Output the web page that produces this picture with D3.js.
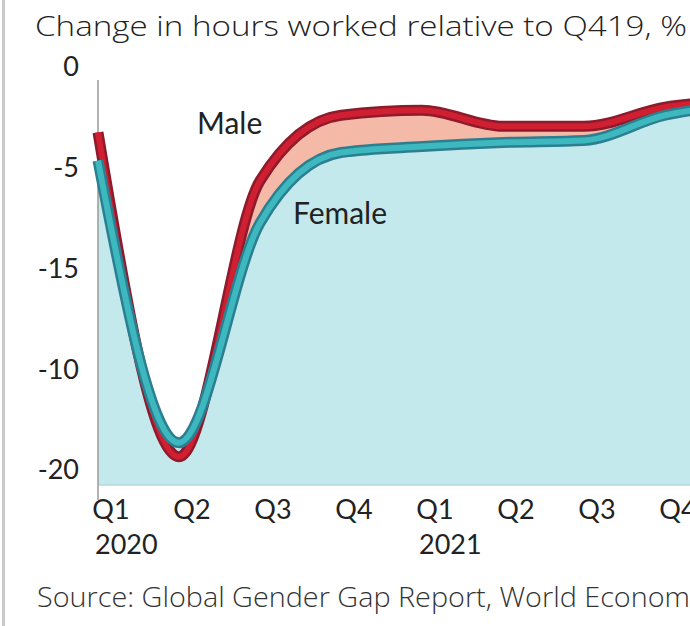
<!DOCTYPE html>
<html lang="en">

<head>
    <meta charset="UTF-8">
    <title>Change in hours worked</title>
    <script src="https://cdn.jsdelivr.net/npm/d3@7"></script>
    <style>
        body { margin: 0; background: #fff; }
    </style>
</head>

<body>
    <div id="container"></div>

    <script>
        const width = 690;
        const height = 626;

        // data: quarterly change vs Q4 2019, %
        const quarters = ['Q1', 'Q2', 'Q3', 'Q4', 'Q1', 'Q2', 'Q3', 'Q4', 'Q1'];
        const yearLabels = ['2020', '2021'];
        const yearStart = [0, 4];
        const male = [-2.5, -18.6, -4.9, -1.65, -1.4, -2.2, -2.2, -1.25, -0.9];
        const female = [-3.9, -17.9, -7.0, -3.5, -3.2, -3.0, -2.9, -1.65, -1.1];
        const yTicks = [0, -5, -10, -15, -20];
        const yTickLabels = ['0', '-5', '-15', '-10', '-20'];

        const x = d3.scaleLinear().domain([0, 1]).range([98, 179]);
        const y = d3.scaleLinear().domain([0, -20]).range([82, 485]);

        const svg = d3.select('#container').append('svg')
            .attr('width', width)
            .attr('height', height);

        // left border
        svg.append('rect')
            .attr('x', 2).attr('y', 0)
            .attr('width', 3).attr('height', height)
            .attr('fill', '#c9c9c9');

        const rows = male.map((m, i) => ({ i, male: m, female: female[i] }));

        // gap between the two series
        svg.append('path')
            .datum(rows)
            .attr('fill', '#f5b9a8')
            .attr('d', d3.area()
                .curve(d3.curveMonotoneX)
                .x(d => x(d.i))
                .y0(d => y(d.female))
                .y1(d => y(d.male)));

        // area under female
        svg.append('path')
            .datum(rows)
            .attr('fill', '#c4e9ec')
            .attr('d', d3.area()
                .curve(d3.curveMonotoneX)
                .x(d => x(d.i))
                .y0(y(-20))
                .y1(d => y(d.female)));

        svg.append('line')
            .attr('x1', x(0)).attr('x2', width)
            .attr('y1', y(-20)).attr('y2', y(-20))
            .attr('stroke', '#b3d9dc')
            .attr('stroke-width', 1.5);

        // axis line
        svg.append('line')
            .attr('x1', x(0)).attr('x2', x(0))
            .attr('y1', 80).attr('y2', 500)
            .attr('stroke', '#9a9a9a')
            .attr('stroke-width', 1.5);

        function drawLine(key, dark, bright) {
            const l = d3.line()
                .curve(d3.curveMonotoneX)
                .x(d => x(d.i))
                .y(d => y(d[key]));
            svg.append('path').datum(rows)
                .attr('fill', 'none').attr('stroke', dark)
                .attr('stroke-width', 11).attr('stroke-linejoin', 'round')
                .attr('d', l);
            svg.append('path').datum(rows)
                .attr('fill', 'none').attr('stroke', bright)
                .attr('stroke-width', 6).attr('stroke-linejoin', 'round')
                .attr('d', l);
        }
        drawLine('male', '#8e1a2c', '#d01f30');
        drawLine('female', '#2b7f90', '#3cb8be');

        const font = 'Lato, "Open Sans", sans-serif';

        // y tick labels
        svg.append('g').selectAll('text').data(yTicks).join('text')
            .attr('x', 79)
            .attr('y', d => y(d) - 15)
            .attr('dy', '0.35em')
            .attr('text-anchor', 'end')
            .attr('font-family', font)
            .attr('font-size', 27)
            .attr('fill', '#222')
            .text((d, i) => yTickLabels[i]);

        // x tick labels
        svg.append('g').selectAll('text').data(quarters).join('text')
            .attr('x', (d, i) => x(i) + 13)
            .attr('y', 519)
            .attr('text-anchor', 'middle')
            .attr('font-family', font)
            .attr('font-size', 27)
            .attr('fill', '#222')
            .text(d => d);

        svg.append('g').selectAll('text').data(yearLabels).join('text')
            .attr('x', (d, i) => x(yearStart[i]) - 3)
            .attr('y', 554)
            .attr('font-family', font)
            .attr('font-size', 27)
            .attr('fill', '#222')
            .text(d => d);

        // series labels
        svg.append('text')
            .attr('x', 197).attr('y', 134)
            .attr('font-family', font).attr('font-size', 30)
            .attr('fill', '#222').text('Male');
        svg.append('text')
            .attr('x', 293).attr('y', 224)
            .attr('font-family', font).attr('font-size', 30)
            .attr('fill', '#222').text('Female');

        // title + source
        svg.append('text')
            .attr('x', 35).attr('y', 36)
            .attr('font-family', '"Open Sans", sans-serif')
            .attr('font-size', 28)
            .attr('font-weight', 300)
            .attr('textLength', 652)
            .attr('lengthAdjust', 'spacingAndGlyphs')
            .attr('fill', '#222')
            .text('Change in hours worked relative to Q419, %');

        // source runs past the right edge, as in the original crop
        const src = svg.append('text')
            .attr('x', 37).attr('y', 607)
            .attr('font-family', '"Open Sans", sans-serif')
            .attr('font-size', 27)
            .attr('font-weight', 300)
            .attr('fill', '#333')
            .text('Source: Global Gender Gap Report, World Economic Forum');
        const node = src.node();
        const shown = node.getSubStringLength(0, 46);
        src.attr('textLength', node.getComputedTextLength() * 653 / shown)
            .attr('lengthAdjust', 'spacingAndGlyphs');
    </script>
</body>

</html>
